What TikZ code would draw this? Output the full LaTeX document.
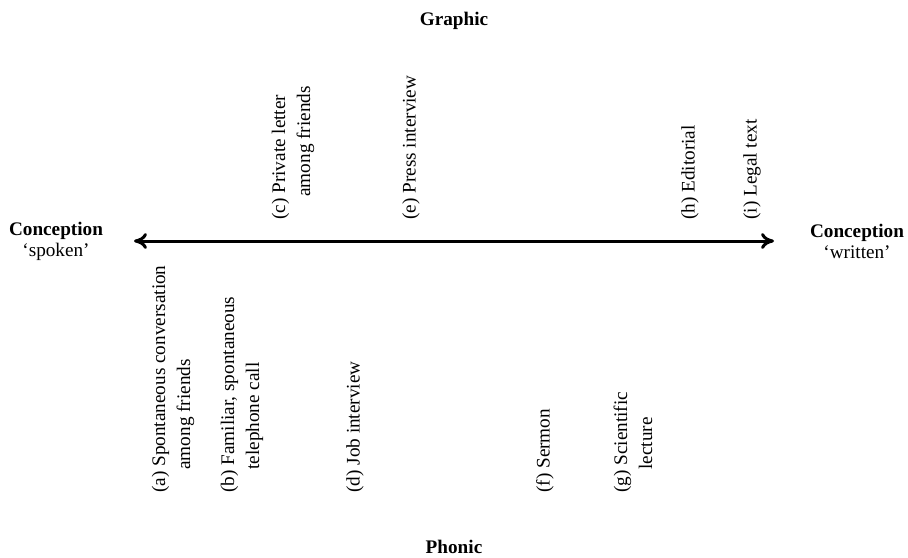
\documentclass[tikz,border=0pt]{standalone}
\usepackage{fontspec}
\setmainfont{Liberation Serif}
\usetikzlibrary{arrows.meta}
\begin{document}
\begin{tikzpicture}[x=0.5pt,y=-0.5pt,
  every node/.style={font=\fontsize{9.6}{12.5}\selectfont, inner sep=0pt},
  heading/.style={font=\fontsize{9.6}{12}\selectfont\bfseries},
  pole/.style={font=\fontsize{9.6}{10.5}\selectfont, align=center},
  labelup/.style={rotate=90, anchor=west, align=left},
  axisline/.style={{To[length=6.5pt,width=8pt]}-{To[length=6.5pt,width=8pt]}, line width=1.5pt}
]
\useasboundingbox (0,0) rectangle (908,557);

% medium axis
\node[heading] (graphic) at (454,21) {Graphic};
\node[heading] (phonic)  at (454,547) {Phonic};

% conception axis
\node[pole] (spoken)  at (56,241)  {\textbf{Conception}\\‘spoken’};
\node[pole] (written) at (857,241) {\textbf{Conception}\\‘written’};
\coordinate (L) at (134,241);
\coordinate (R) at (774,241);
\draw[axisline] (L) -- (R);

% graphic realisations
\node[labelup] (c) at (293,220) {(c) Private letter\\\hspace*{1.2em}among friends};
\node[labelup] (e) at (411,220) {(e) Press interview};
\node[labelup] (h) at (690,220) {(h) Editorial};
\node[labelup] (i) at (752,220) {(i) Legal text};

% phonic realisations
\node[labelup] (a) at (173,493) {(a) Spontaneous conversation\\\hspace*{1.2em}among friends};
\node[labelup] (b) at (242,493) {(b) Familiar, spontaneous\\\hspace*{1.2em}telephone call};
\node[labelup] (d) at (355,493) {(d) Job interview};
\node[labelup] (f) at (545,493) {(f) Sermon};
\node[labelup] (g) at (633,493) {(g) Scientific\\\hspace*{1.2em}lecture};
\end{tikzpicture}
\end{document}
